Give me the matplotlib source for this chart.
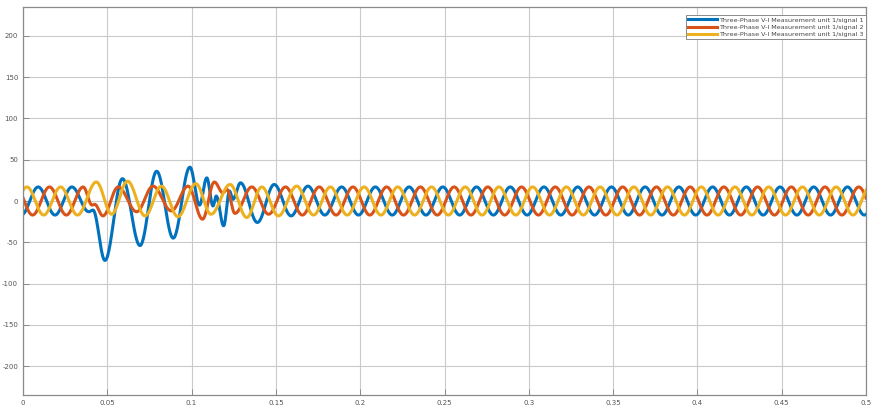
import numpy as np
import matplotlib.pyplot as plt

plt.rcParams['axes.unicode_minus'] = False

# extrema of each signal (time in ms, value)
sig1_t = [-1, 9, 19, 29, 39, 41.5, 48.6, 59, 69.4, 79.3, 89.1, 99, 104.7, 109,
          112.7, 114.6, 119, 122.5, 124.5, 129, 139, 149, 159, 169, 179, 189,
          199, 209, 219, 229, 239, 249, 259, 269, 279, 289, 299, 309, 319, 329,
          339, 349, 359, 369, 379, 389, 399, 409, 419, 429, 439, 449, 459, 469,
          479, 489, 499, 509]
sig1_v = [-17, 17, -17, 17, -13, -11, -72, 27, -54, 36, -45, 41, -5, 28,
          -6, 6, -30, 12, 2, 22, -26, 20, -18, 18, -17, 17,
          -17, 17, -17, 17, -17, 17, -17, 17, -17, 17, -17, 17, -17, 17,
          -17, 17, -17, 17, -17, 17, -17, 17, -17, 17, -17, 17, -17, 17,
          -17, 17, -17, 17]

sig2_t = [-4.3, 5.7, 15.7, 25.7, 35.7, 41, 42.5, 47.4, 56.5, 67.4, 77.1, 88,
          97.9, 106.5, 113.5, 118.5, 121, 125.7, 135.7, 145.7, 155.7, 165.7,
          175.7, 185.7, 195.7, 205.7, 215.7, 225.7, 235.7, 245.7, 255.7, 265.7,
          275.7, 285.7, 295.7, 305.7, 315.7, 325.7, 335.7, 345.7, 355.7, 365.7,
          375.7, 385.7, 395.7, 405.7, 415.7, 425.7, 435.7, 445.7, 455.7, 465.7,
          475.7, 485.7, 495.7, 505.7]
sig2_v = [17, -17, 17, -17, 17, -5, -4, -18, 17, -13, 18, -12,
          18, -22, 23, 10, 14, -15, 17, -16, 17, -17,
          17, -17, 17, -17, 17, -17, 17, -17, 17, -17,
          17, -17, 17, -17, 17, -17, 17, -17, 17, -17,
          17, -17, 17, -17, 17, -17, 17, -17, 17, -17,
          17, -17, 17, -17]

sig3_t = [-7.7, 2.3, 12.3, 22.3, 32.3, 43.5, 52.6, 62, 72.4, 82.1, 91.9, 102.5,
          111.5, 122.8, 132.7, 141.6, 151.5, 162.3, 172.3, 182.3, 192.3, 202.3,
          212.3, 222.3, 232.3, 242.3, 252.3, 262.3, 272.3, 282.3, 292.3, 302.3,
          312.3, 322.3, 332.3, 342.3, 352.3, 362.3, 372.3, 382.3, 392.3, 402.3,
          412.3, 422.3, 432.3, 442.3, 452.3, 462.3, 472.3, 482.3, 492.3, 502.3]
sig3_v = [-17, 17, -17, 17, -17, 23, -16, 24, -18, 18, -19, 21,
          -16, 20, -20, 17, -18, 18, -17, 17, -17, 17,
          -17, 17, -17, 17, -17, 17, -17, 17, -17, 17,
          -17, 17, -17, 17, -17, 17, -17, 17, -17, 17,
          -17, 17, -17, 17, -17, 17, -17, 17, -17, 17]

labels = ['Three-Phase V-I Measurement unit 1/signal 1',
          'Three-Phase V-I Measurement unit 1/signal 2',
          'Three-Phase V-I Measurement unit 1/signal 3']
colors = ['#0072BD', '#D95319', '#EDB120']


def smooth(ts, vs, n=30):
    # half-cosine segments between successive extrema
    ts = np.asarray(ts) / 1000.0
    vs = np.asarray(vs, dtype=float)
    x, y = [], []
    for i in range(len(ts) - 1):
        s = np.linspace(0, 1, n, endpoint=False)
        x.append(ts[i] + (ts[i+1] - ts[i]) * s)
        y.append(vs[i] + (vs[i+1] - vs[i]) * (1 - np.cos(np.pi * s)) / 2)
    x.append(ts[-1:])
    y.append(vs[-1:])
    return np.concatenate(x), np.concatenate(y)


fig = plt.figure(figsize=(8.71, 4.13), dpi=100)
ax = fig.add_axes([23/871, 18/413, 843/871, 388/413])

for ts, vs, c, lab in zip([sig1_t, sig2_t, sig3_t], [sig1_v, sig2_v, sig3_v],
                          colors, labels):
    x, y = smooth(ts, vs)
    ax.plot(x, y, color=c, lw=2.2, label=lab)

ax.set_xlim(0, 0.5)
ax.set_ylim(-235, 235)
ax.set_xticks(np.arange(0, 0.51, 0.05))
ax.set_xticklabels(['0', '0.05', '0.1', '0.15', '0.2', '0.25', '0.3',
                    '0.35', '0.4', '0.45', '0.5'])
ax.set_yticks(np.arange(-200, 201, 50))
ax.grid(True, color='#cacaca', lw=0.8)
ax.tick_params(direction='in', length=4, width=0.6, colors='#808080',
               labelsize=5, labelcolor='#555555')
for sp in ax.spines.values():
    sp.set_color('#8a8a8a')
    sp.set_linewidth(0.9)

leg = ax.legend(loc='upper right', bbox_to_anchor=(1.0, 1 - 8/388),
                borderaxespad=0, fontsize=4.6, handlelength=4.4,
                handletextpad=0.4, labelspacing=0.25, fancybox=False,
                framealpha=1, edgecolor='#8a8a8a', borderpad=0.35)
leg.get_frame().set_linewidth(0.7)
for t in leg.get_texts():
    t.set_color('#444444')

fig.savefig('out.png', dpi=100)
